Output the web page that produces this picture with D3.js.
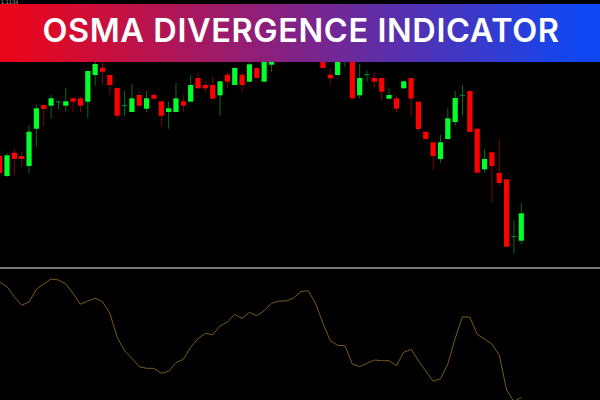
<!DOCTYPE html>
<html>
<head>
<meta charset="utf-8">
<script src="https://cdn.jsdelivr.net/npm/d3@7"></script>
<style>
    html, body { margin: 0; padding: 0; background: #000; overflow: hidden; }
    svg { display: block; }
</style>
</head>
<body>
<div id="chart"></div>
<script>
// candles (price in arbitrary points, the chart has no axis)
const opens = [112,92,115.3,112,102,139.3,163,162.3,166.2,162.3,169.7,169.7,166.3,193,200.3,193,180,162.5,156,173,159.3,173,166.7,156,156,166.7,166.3,190,183,183,172.7,193.3,183,193.3,186.3,200,186.3,203.3,215,225,218,232,224,216,213,193.3,193,210,210,172.7,193.5,190,190,169.3,169.7,179.7,190,166.3,136.3,125.7,109,129,146,172.8,177,139.3,98.7,115.7,95,88.7,31.5,27.3];
const highs = [115,115,119,116,143,163,163,173,167,180,170,171.3,197,206.3,206.3,193,180,177,184,176,177,174,167,166.3,185,173,193,195,186.3,191.3,187,195,201,196.3,205.3,201,212,216,228,230,236,235,228,219,215,200,215,218,212,204,197.3,196.3,190,179.7,173,187,190,166.3,136.3,126,133,160,177,183,177,139.3,119,116,129,88.7,48,65];
const lows = [92,91,94,101,95,122,142,149.3,159,156.3,156,156,150,182.3,183,173,149,152.3,156,162,156,168,142,139.3,156,156,166.3,179,176.3,169,152.3,180,183,176.3,186,190,186,196.3,212,214,215,220,212,208,200,183,193,201.3,169,169.3,186.3,180,168,169,156,179.7,152,136.3,129,98,105.3,129,142.3,152.3,136,95.3,95.3,65,82,21.3,14,24];
const closes = [95,112.7,109,109,136.3,159.7,159,169.7,166.7,166.7,166.3,162.3,197,204,196.3,183,152.3,162.9,169.7,162.3,169.7,169.3,152.3,159.7,169.7,162.3,183,179.7,179.7,169.3,186.7,186.3,200,183,203.7,190,210,213,225,218,232,224,216,210,200,189.7,213,216,169.7,190,193.9,186.3,176.3,173,159.3,186.7,169.5,139,129,112,125.7,149.7,170,173.2,136,95.3,109,102,85,21.3,31.9,54.7];

// OsMA value of each candle
const osma = [53,48.3,38.3,29.7,33,45.7,51,56,55,51,41.7,30.7,34,36.7,33.3,21.7,-2.3,-15.7,-23.3,-31.7,-33.3,-33.3,-38.3,-36.3,-27.7,-24.3,-12.3,-3.7,1.7,0.3,9,13,20.7,16.7,22.7,19.3,24.3,31.7,34,34,37,43.3,44.3,31.7,11.7,-5.7,-10.3,-10.7,-29,-31.7,-28.3,-25,-25.7,-25.7,-30.7,-17.3,-14.3,-25.7,-36,-46.3,-43.7,-29,-3.3,18.3,17.7,0.7,-4,-9,-20,-55,-66.7,-62.3];

const title = "OSMA DIVERGENCE INDICATOR";
const topPrice = "1.1134";

const width = 600;
const height = 400;

const svg = d3.select("#chart")
    .append("svg")
    .attr("width", width)
    .attr("height", height)
    .style("background", "#000");

// one shared x scale, the oscillator is aligned with the candles
const x = d3.scaleLinear().domain([0, opens.length - 1]).range([-0.35, 521.3]);
const yPrice = d3.scaleLinear().domain([0, 268]).range([268, 0]);
const yOsma = d3.scaleLinear().domain([-65, 65]).range([400, 270]);

const green = "#00ff2b";
const red = "#ff0000";
const bodyWidth = 5.2;

const candles = svg.append("g").selectAll("g")
    .data(opens.map(function(o, i) { return i; }))
    .enter()
    .append("g");

candles.append("line")
    .attr("x1", function(i) { return x(i); })
    .attr("x2", function(i) { return x(i); })
    .attr("y1", function(i) { return yPrice(highs[i]); })
    .attr("y2", function(i) { return yPrice(lows[i]); })
    .attr("stroke", function(i) { return closes[i] >= opens[i] ? "#0b6a1c" : "#760909"; })
    .attr("stroke-width", 1);

candles.append("rect")
    .attr("x", function(i) { return x(i) - bodyWidth / 2; })
    .attr("y", function(i) { return yPrice(Math.max(opens[i], closes[i])); })
    .attr("width", bodyWidth)
    .attr("height", function(i) { return Math.abs(yPrice(opens[i]) - yPrice(closes[i])); })
    .attr("fill", function(i) { return closes[i] >= opens[i] ? green : red; })
    .filter(function(i) { return Math.abs(opens[i] - closes[i]) < 1; })
    .attr("height", 1)
    .attr("fill", "#0f8f25");

// separator of the indicator window
svg.append("line")
    .attr("x1", 0)
    .attr("x2", width)
    .attr("y1", 268)
    .attr("y2", 268)
    .attr("stroke", "#a0a0a0")
    .attr("stroke-width", 1.6);

const osmaLine = d3.line()
    .x(function(d, i) { return x(i); })
    .y(function(d) { return yOsma(d); });

svg.append("path")
    .attr("d", osmaLine(osma))
    .attr("fill", "none")
    .attr("stroke", "#7a5820")
    .attr("stroke-width", 1);

// title banner
const gradient = svg.append("defs").append("linearGradient")
    .attr("id", "banner")
    .attr("x1", "0%")
    .attr("x2", "100%");
gradient.append("stop").attr("offset", "3%").attr("stop-color", "#e9061c");
gradient.append("stop").attr("offset", "50%").attr("stop-color", "#7f2388");
gradient.append("stop").attr("offset", "97%").attr("stop-color", "#0f47f2");

svg.append("rect")
    .attr("x", 0)
    .attr("y", 4)
    .attr("width", width)
    .attr("height", 58)
    .attr("fill", "url(#banner)");

svg.append("text")
    .attr("x", 301)
    .attr("y", 41.7)
    .attr("text-anchor", "middle")
    .attr("fill", "#fff")
    .attr("font-family", "Inter, Lato, sans-serif")
    .attr("font-weight", 600)
    .attr("font-size", 32.5)
    .attr("letter-spacing", 0.6)
    .text(title);

// the price label at the very top is cut off by the banner
svg.append("text")
    .attr("x", 1)
    .attr("y", 3.5)
    .attr("fill", "#999")
    .attr("font-family", "'DejaVu Sans', sans-serif")
    .attr("font-size", 5)
    .text(topPrice);
</script>
</body>
</html>
